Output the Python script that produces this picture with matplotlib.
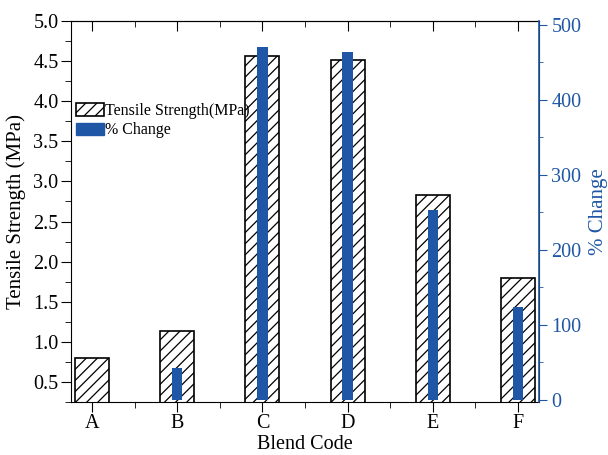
import numpy as np
import matplotlib.pyplot as plt
from matplotlib.patches import Patch
from matplotlib.ticker import MultipleLocator

plt.rcParams['font.family'] = ['Liberation Serif', 'DejaVu Serif']
plt.rcParams['hatch.linewidth'] = 0.9

blends = ['A', 'B', 'C', 'D', 'E', 'F']
tensile = [0.80, 1.14, 4.56, 4.51, 2.83, 1.79]
pct_change = [0.0, 42.5, 470.0, 463.75, 253.75, 123.75]

blue = '#1f56a6'
x = np.arange(len(blends))

fig = plt.figure(figsize=(6.08, 4.55), dpi=100)
ax = fig.add_axes([0.1168, 0.1165, 0.7697, 0.8373])
ax.bar(x, tensile, width=0.4, color='white', edgecolor='black',
       hatch='///', linewidth=1.2, zorder=2)
ax.set_ylim(0.25, 5.0)
ax.set_xlim(-0.25, 5.25)
ax.set_xticks(x)
ax.set_xticklabels(blends)
ax.xaxis.set_minor_locator(MultipleLocator(0.5))
ax.yaxis.set_major_locator(MultipleLocator(0.5))
ax.yaxis.set_minor_locator(MultipleLocator(0.25))
ax.tick_params(axis='both', which='major', direction='out', length=7, labelsize=14.5, pad=2)
ax.tick_params(axis='both', which='minor', direction='out', length=4)
ax.set_yticks(np.arange(0.5, 5.01, 0.5))
ax.set_ylabel('Tensile Strength (MPa)', fontsize=15, labelpad=5)
ax.set_xlabel('Blend Code', fontsize=14.5, labelpad=1)

top = ax.secondary_xaxis('top')
top.set_xticks(x)
top.set_xticklabels([])
top.xaxis.set_minor_locator(MultipleLocator(0.5))
top.tick_params(which='major', direction='in', length=7)
top.tick_params(which='minor', direction='in', length=4)

ax2 = ax.twinx()
ax2.bar(x, pct_change, width=0.12, color=blue, zorder=3)
ax2.set_ylim(-2.7, 505.3)
ax2.yaxis.set_major_locator(MultipleLocator(100))
ax2.yaxis.set_minor_locator(MultipleLocator(50))
ax2.set_yticks(np.arange(0, 501, 100))
ax2.tick_params(axis='y', which='major', direction='out', length=6, colors=blue,
                labelsize=14.5, pad=3)
ax2.tick_params(axis='y', which='minor', direction='out', length=3, colors=blue)
ax2.spines['right'].set_color(blue)
ax2.spines['right'].set_linewidth(1.2)
for s in ['left', 'top', 'bottom']:
    ax2.spines[s].set_visible(False)
ax2.set_ylabel('% Change', fontsize=15, color=blue, labelpad=5)

handles = [Patch(facecolor='white', edgecolor='black', hatch='///', linewidth=1.2),
           Patch(facecolor=blue, edgecolor=blue)]
ax2.legend(handles, ['Tensile Strength(MPa)', '% Change'], loc='upper left',
           bbox_to_anchor=(0.0, 0.797), frameon=False, fontsize=11.5,
           handlelength=1.75, handleheight=0.8, handletextpad=0.1,
           labelspacing=0.2, borderaxespad=0.1, borderpad=0.2)

fig.savefig('out.png', dpi=100)
